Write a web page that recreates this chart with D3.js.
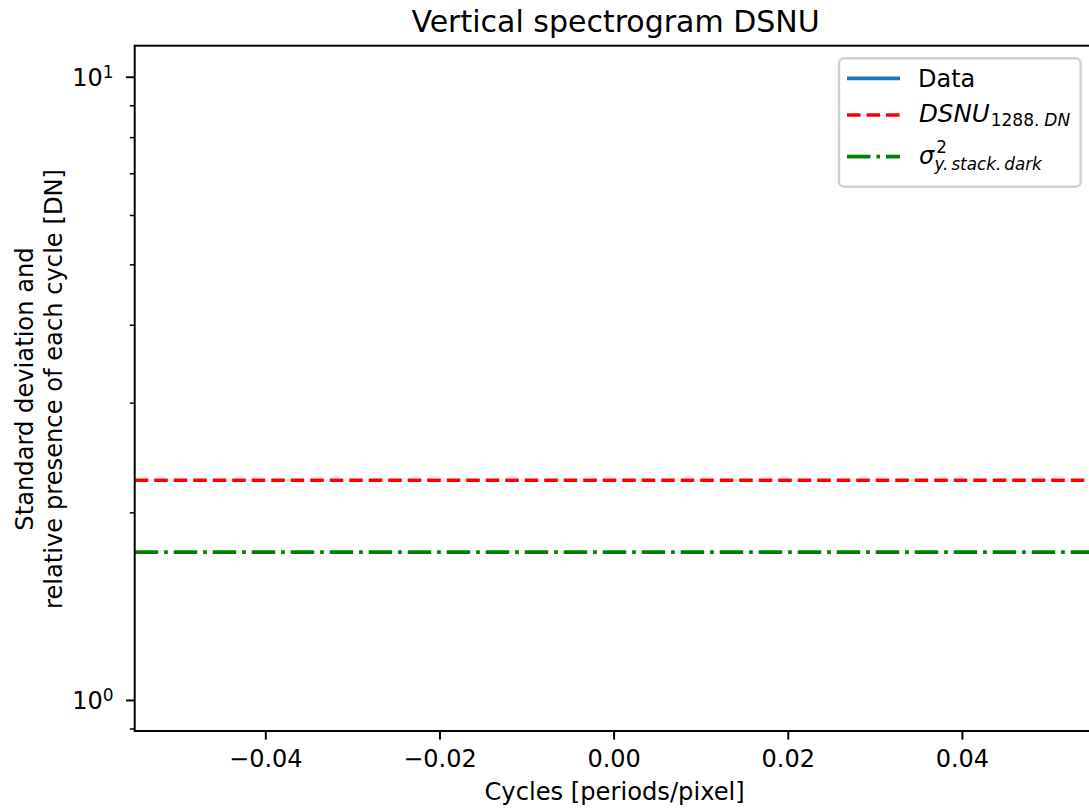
<!DOCTYPE html>
<html>
<head>
<meta charset="utf-8">
<script src="https://cdn.jsdelivr.net/npm/d3@7"></script>
<style>
  html, body { margin: 0; padding: 0; background: #fff; }
  svg { display: block; font-family: "DejaVu Sans", sans-serif; }
</style>
</head>
<body>
<div id="chart"></div>
<script>
// Datos del gráfico (la serie "Data" está vacía en la figura original)
const cycles = [];
const dataValues = [];
const dsnuValue = 2.252;      // DSNU_1288.DN
const sigmaValue = 1.727;     // sigma^2 y.stack.dark
const xLimits = [-0.055, 0.055];
const yLimits = [0.8917, 11.215];
const xTicks = [-0.04, -0.02, 0.00, 0.02, 0.04];
const yMajorTicks = [1, 10];
const yMajorLabels = [["10", "0"], ["10", "1"]];
const yMinorTicks = [0.9, 2, 3, 4, 5, 6, 7, 8, 9];
const legendLabels = ["Data", "DSNU", "sigma"];
const colors = { data: "#1f77b4", dsnu: "#ff0000", sigma: "#008000" };

const width = 1089, height = 811;
const plotLeft = 134.7, plotRight = 1092.5, plotTop = 45.7, plotBottom = 731;

const svg = d3.select("#chart").append("svg")
  .attr("width", width).attr("height", height);

const x = d3.scaleLinear().domain(xLimits).range([plotLeft, plotRight]);
const y = d3.scaleLog().domain(yLimits).range([plotBottom, plotTop]);

// Líneas de datos
const lw = 3.7;
svg.append("path")
  .datum(cycles.map((c, i) => [c, dataValues[i]]))
  .attr("fill", "none").attr("stroke", colors.data).attr("stroke-width", lw)
  .attr("d", d3.line().x(d => x(d[0])).y(d => y(d[1])));

svg.append("line")
  .attr("x1", plotLeft).attr("x2", plotRight)
  .attr("y1", y(dsnuValue)).attr("y2", y(dsnuValue))
  .attr("stroke", colors.dsnu).attr("stroke-width", lw)
  .attr("stroke-dasharray", "13.6,5.9");

svg.append("line")
  .attr("x1", plotLeft).attr("x2", plotRight)
  .attr("y1", y(sigmaValue)).attr("y2", y(sigmaValue))
  .attr("stroke", colors.sigma).attr("stroke-width", lw)
  .attr("stroke-dasharray", "23.5,5.9,3.7,5.9");

// Ejes
const xAxis = svg.append("g")
  .attr("transform", `translate(0,${plotBottom})`)
  .call(d3.axisBottom(x).tickValues(xTicks).tickFormat(d3.format(".2f"))
    .tickSizeInner(8.6).tickSizeOuter(0).tickPadding(10.4));

const yMinor = svg.append("g")
  .attr("transform", `translate(${plotLeft},0)`)
  .call(d3.axisLeft(y).tickValues(yMinorTicks).tickFormat("")
    .tickSizeInner(4.9).tickSizeOuter(0));

const yAxis = svg.append("g")
  .attr("transform", `translate(${plotLeft},0)`)
  .call(d3.axisLeft(y).tickValues(yMajorTicks).tickFormat("")
    .tickSizeInner(8.6).tickSizeOuter(0));

[xAxis, yMinor, yAxis].forEach(g => g.select(".domain").remove());
xAxis.selectAll(".tick line").attr("stroke", "#000").attr("stroke-width", 2);
yAxis.selectAll(".tick line").attr("stroke", "#000").attr("stroke-width", 2);
yMinor.selectAll(".tick line").attr("stroke", "#000").attr("stroke-width", 1.5);
xAxis.selectAll("text").attr("font-size", 24).attr("fill", "#000")
  .attr("font-family", "DejaVu Sans");

// Etiquetas 10^n del eje y
yMajorTicks.forEach((v, i) => {
  const t = svg.append("text")
    .attr("x", 113.5).attr("y", y(v) + 9.5)
    .attr("text-anchor", "end").attr("font-size", 24);
  t.append("tspan").text(yMajorLabels[i][0]);
  t.append("tspan").attr("font-size", 17).attr("dy", -8).text(yMajorLabels[i][1]);
});

// Marco
svg.append("rect")
  .attr("x", plotLeft).attr("y", plotTop)
  .attr("width", plotRight - plotLeft).attr("height", plotBottom - plotTop)
  .attr("fill", "none").attr("stroke", "#000").attr("stroke-width", 2);

// Títulos
svg.append("text")
  .attr("x", (plotLeft + plotRight) / 2 + 2).attr("y", 32)
  .attr("text-anchor", "middle").attr("font-size", 30)
  .text("Vertical spectrogram DSNU");

svg.append("text")
  .attr("x", (plotLeft + plotRight) / 2 + 1).attr("y", 800)
  .attr("text-anchor", "middle").attr("font-size", 24.2)
  .text("Cycles [periods/pixel]");

svg.append("text")
  .attr("transform", "translate(33,389) rotate(-90)")
  .attr("text-anchor", "middle").attr("font-size", 24.2)
  .text("Standard deviation and");
svg.append("text")
  .attr("transform", "translate(62,389) rotate(-90)")
  .attr("text-anchor", "middle").attr("font-size", 24.2)
  .text("relative presence of each cycle [DN]");

// Leyenda
const legend = svg.append("g");
legend.append("rect")
  .attr("x", 839).attr("y", 58.3).attr("width", 241.7).attr("height", 128.4)
  .attr("rx", 5).attr("fill", "#fff").attr("fill-opacity", 0.8)
  .attr("stroke", "#d0d0d0").attr("stroke-width", 2.4);

const rows = [
  { key: "data", y: 78.3, dash: null },
  { key: "dsnu", y: 115, dash: "13.6,5.9" },
  { key: "sigma", y: 156.7, dash: "23.5,5.9,3.7,5.9" }
];
rows.forEach(r => {
  legend.append("line")
    .attr("x1", 847).attr("x2", 900).attr("y1", r.y).attr("y2", r.y)
    .attr("stroke", colors[r.key]).attr("stroke-width", lw)
    .attr("stroke-dasharray", r.dash);
});

legend.append("text").attr("x", 918).attr("y", 86.7)
  .attr("font-size", 24).text(legendLabels[0]);

const t2 = legend.append("text").attr("x", 919).attr("y", 122.3).attr("font-size", 24.5);
t2.append("tspan").attr("font-style", "italic").text("DSNU");
t2.append("tspan").attr("font-size", 17).attr("dx", 1).attr("dy", 4).text("1288.");
t2.append("tspan").attr("font-size", 17).attr("font-style", "italic").attr("dx", 5).text("DN");

// sigma con superíndice y subíndice en un solo texto
const t3 = legend.append("text").attr("x", 919).attr("y", 163.5).attr("font-size", 24);
t3.append("tspan").attr("font-style", "italic").text("σ");
t3.append("tspan").attr("font-size", 16.8).attr("dx", 2).attr("dy", -10.5).text("2");
t3.append("tspan").attr("font-size", 16.8).attr("font-style", "italic")
  .attr("dx", -12.5).attr("dy", 16.5).text("y.");
t3.append("tspan").attr("font-size", 16.8).attr("font-style", "italic").attr("dx", 3).text("stack.");
t3.append("tspan").attr("font-size", 16.8).attr("font-style", "italic").attr("dx", 3).text("dark");
</script>
</body>
</html>
